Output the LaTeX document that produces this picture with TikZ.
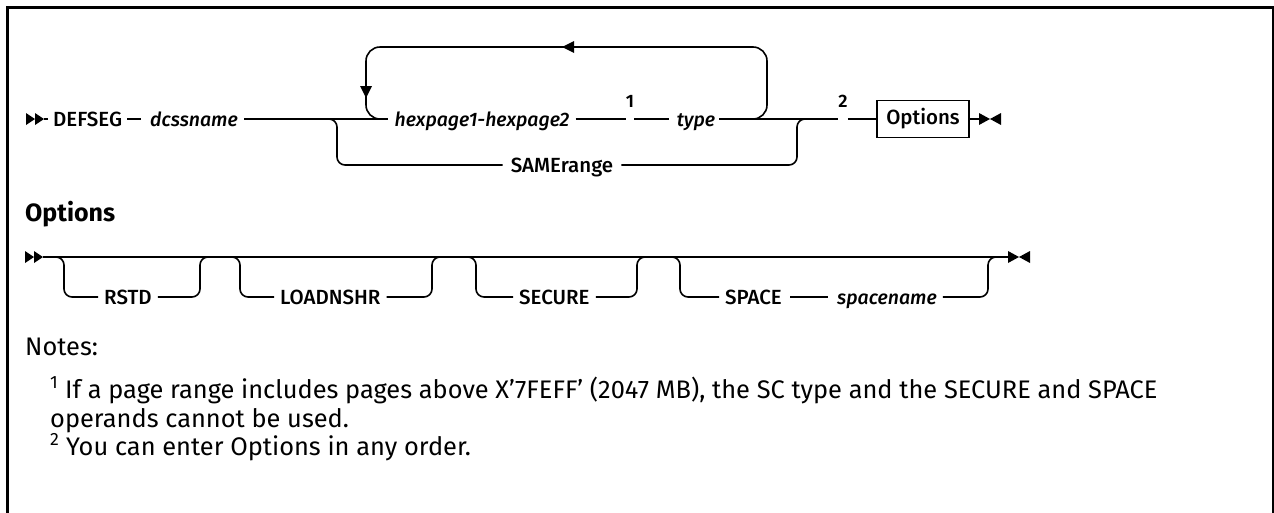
\documentclass[tikz,border=0pt]{standalone}
\usepackage{fontspec}
\setmainfont{Fira Sans}
\newfontfamily\railfont{Fira Sans}[UprightFont={* Medium}, ItalicFont={* Medium Italic}, BoldFont={* SemiBold}]
\usetikzlibrary{arrows.meta, positioning, calc}

\begin{document}
\begin{tikzpicture}[
    x=1pt, y=-1pt,
    rail/.style={line width=1.6pt, line join=round},
    railcurve/.style={rail, rounded corners=8pt},
    kw/.style={font=\fontsize{20.5}{22}\railfont, inner sep=0pt, anchor=west, text height=14pt, text depth=0pt},
    var/.style={font=\fontsize{19.5}{22}\railfont\itshape, inner sep=0pt, anchor=west, text height=14pt, text depth=0pt},
    fnref/.style={font=\fontsize{18}{20}\railfont\bfseries, inner sep=0pt},
    note/.style={font=\fontsize{25.4}{29}\selectfont, inner sep=0pt, anchor=base west},
]
    \useasboundingbox (0,0) rectangle (1274,512);
    \draw[line width=3pt] (7.5,520) -- (7.5,7.5) -- (1273.5,7.5) -- (1273.5,520);

    % main statement
    \coordinate (start1) at (26,119);
    \fill (start1) ++(0,-6) -- ++(9,6) -- ++(-9,6) -- cycle;
    \fill (start1) ++(9,-6) -- ++(9,6) -- ++(-9,6) -- cycle;
    \node[kw] (defseg) at (53,119) {DEFSEG};
    \node[var] (dcss) at (150,119) {dcssname};
    \node[var, anchor=center] (hex) at (482,119) {hexpage1-hexpage2};
    \node[var, anchor=center] (type) at (696,119) {type};
    \node[kw, anchor=center] (same) at (562,165) {SAMErange};
    \node[fnref] (fn1) at (630,101) {1};
    \node[fnref] (fn2) at (843,101) {2};
    \node[draw, line width=1.6pt, font=\fontsize{20.5}{22}\railfont,
          minimum width=92pt, minimum height=37pt, inner sep=0pt] (optbox) at (923,119) {Options};
    \coordinate (end1) at (979,119);

    \draw[rail] ([xshift=18pt]start1) -- ([xshift=-5pt]defseg.west);
    \draw[rail] ([xshift=5pt]defseg.east) -- ([xshift=-9pt]dcss.west);
    \draw[rail] ([xshift=6pt]dcss.east) -- ([xshift=-6pt]hex.west);
    \draw[rail] ([xshift=6pt]hex.east) -- (fn1.west |- hex);
    \draw[rail] (fn1.east |- hex) -- ([xshift=-8pt]type.west);
    \draw[rail] ([xshift=4pt]type.east) -- (fn2.west |- type);
    \draw[rail] (fn2.east |- type) -- (optbox.west);
    \draw[rail] (optbox.east) -- (end1);
    \fill (end1) ++(0,-6) -- ++(11,6) -- ++(-11,6) -- cycle;
    \fill (end1) ++(22,-6) -- ++(-11,6) -- ++(11,6) -- cycle;

    % repeat loop
    \coordinate (loopL) at (366,119);
    \coordinate (loopR) at (767,119);
    \draw[rail, rounded corners=14pt] ([xshift=-20pt]loopR) -- (loopR) -- (767,47) -- (366,47) -- (loopL) -- ([xshift=20pt]loopL);
    \fill (562,47) -- (574,41) -- (574,53) -- cycle;
    \fill (366,98) -- (360,86) -- (372,86) -- cycle;

    % SAMErange branch
    \coordinate (brL) at (337,119);
    \coordinate (brR) at (797,119);
    \draw[railcurve] ([xshift=-10pt]brL) -- (brL) -- (brL |- same) -- ([xshift=-8pt]same.west);
    \draw[railcurve] ([xshift=8pt]same.east) -- (brR |- same) -- (brR) -- ([xshift=10pt]brR);

    % Options fragment
    \node[font=\fontsize{25}{28}\selectfont\bfseries, anchor=west, inner sep=0pt] (opthead) at (25,214) {Options};
    \coordinate (start2) at (25,257);
    \coordinate (end2) at (1008,257);
    \fill (start2) ++(0,-6) -- ++(9,6) -- ++(-9,6) -- cycle;
    \fill (start2) ++(9,-6) -- ++(9,6) -- ++(-9,6) -- cycle;
    \draw[rail] ([xshift=18pt]start2) -- (end2);
    \fill (end2) ++(0,-6) -- ++(11,6) -- ++(-11,6) -- cycle;
    \fill (end2) ++(22,-6) -- ++(-11,6) -- ++(11,6) -- cycle;

    \node[kw] (rstd) at (104,297) {RSTD};
    \node[kw] (loadn) at (280,297) {LOADNSHR};
    \node[kw] (secure) at (519,297) {SECURE};
    \node[kw] (space) at (725,297) {SPACE};
    \node[var] (spname) at (837,297) {spacename};

    \coordinate (rstdL) at (64,257);
    \coordinate (rstdR) at (200,257);
    \draw[railcurve] ([xshift=-10pt]rstdL) -- (rstdL) -- (rstdL |- rstd) -- ([xshift=-6pt]rstd.west);
    \draw[railcurve] ([xshift=6pt]rstd.east) -- (rstdR |- rstd) -- (rstdR) -- ([xshift=10pt]rstdR);

    \coordinate (loadnL) at (240,257);
    \coordinate (loadnR) at (432,257);
    \draw[railcurve] ([xshift=-10pt]loadnL) -- (loadnL) -- (loadnL |- loadn) -- ([xshift=-6pt]loadn.west);
    \draw[railcurve] ([xshift=6pt]loadn.east) -- (loadnR |- loadn) -- (loadnR) -- ([xshift=10pt]loadnR);

    \coordinate (secureL) at (476,257);
    \coordinate (secureR) at (637,257);
    \draw[railcurve] ([xshift=-10pt]secureL) -- (secureL) -- (secureL |- secure) -- ([xshift=-6pt]secure.west);
    \draw[railcurve] ([xshift=6pt]secure.east) -- (secureR |- secure) -- (secureR) -- ([xshift=10pt]secureR);

    \coordinate (spaceL) at (680,257);
    \coordinate (spaceR) at (988,257);
    \draw[railcurve] ([xshift=-10pt]spaceL) -- (spaceL) -- (spaceL |- space) -- ([xshift=-6pt]space.west);
    \draw[rail] ([xshift=8pt]space.east) -- ([xshift=-9pt]spname.west);
    \draw[railcurve] ([xshift=6pt]spname.east) -- (spaceR |- spname) -- (spaceR) -- ([xshift=10pt]spaceR);

    % notes
    \node[note] (notes) at (25,355) {Notes:};
    \node[note] (note1a) at (50,398) {\textsuperscript{1} If a page range includes pages above X'7FEFF' (2047 MB), the SC type and the SECURE and SPACE};
    \node[note] (note1b) at (50,427) {operands cannot be used.};
    \node[note] (note2) at (50,455) {\textsuperscript{2} You can enter Options in any order.};
\end{tikzpicture}
\end{document}
